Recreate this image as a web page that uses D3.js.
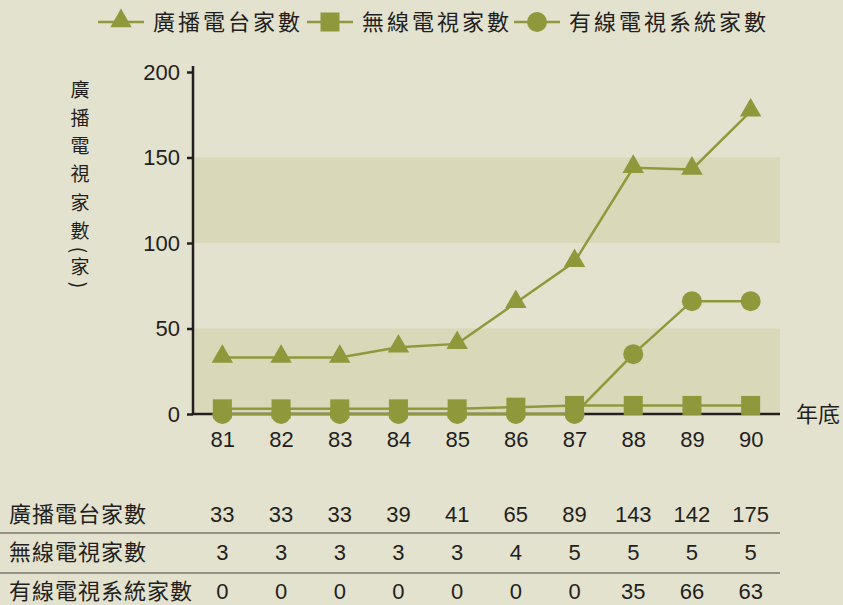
<!DOCTYPE html>
<html>
<head>
<meta charset="utf-8">
<script src="https://cdn.jsdelivr.net/npm/d3@7"></script>
<style>
  body { margin: 0; background: #e3e2cf; }
  svg { display: block; }
  text { font-family: "Noto Sans CJK TC", "Liberation Sans", Arial, sans-serif; fill: #231f20; }
  .num { font-family: "Liberation Sans", Arial, sans-serif; }
</style>
</head>
<body>
<div id="chart"></div>
<script>
// data
var years = ["81", "82", "83", "84", "85", "86", "87", "88", "89", "90"];
var seriesNames = ["廣播電台家數", "無線電視家數", "有線電視系統家數"];
// values as plotted
var radio = [33, 33, 33, 39, 41, 65, 89, 144, 143, 177];
var tv = [3, 3, 3, 3, 3, 4, 5, 5, 5, 5];
var cable = [0, 0, 0, 0, 0, 0, 0, 35, 66, 66];
// values as printed in the table
var radioTable = [33, 33, 33, 39, 41, 65, 89, 143, 142, 175];
var tvTable = [3, 3, 3, 3, 3, 4, 5, 5, 5, 5];
var cableTable = [0, 0, 0, 0, 0, 0, 0, 35, 66, 63];
var yTicks = [0, 50, 100, 150, 200];
var bands = [[0, 50], [100, 150]];

function main() {
  var W = 843, H = 605;
  var color = "#8f993c";

  var svg = d3.select("#chart").append("svg")
    .attr("width", W).attr("height", H);

  svg.append("rect").attr("width", W).attr("height", H).attr("fill", "#e3e2cf");

  var x = d3.scalePoint().domain(years).range([193, 780]).padding(0.5);
  var y = d3.scaleLinear().domain([0, 200]).range([414, 72]);

  // shaded bands
  svg.selectAll(".band").data(bands).enter().append("rect")
    .attr("x", 193).attr("width", 780 - 193)
    .attr("y", d => y(d[1])).attr("height", d => y(d[0]) - y(d[1]))
    .attr("fill", "#d9d8b9");

  // y axis
  var yAxis = svg.append("g")
    .attr("transform", "translate(193,0)")
    .call(d3.axisLeft(y).tickValues(yTicks).tickSize(6).tickPadding(7));
  yAxis.select(".domain").attr("stroke", "#231f20").attr("stroke-width", 2.5)
    .attr("d", "M0,66V414");
  yAxis.selectAll(".tick line").attr("stroke", "#231f20").attr("stroke-width", 2.5);
  yAxis.selectAll("text").attr("class", "num").style("font-size", "22px").attr("fill", "#231f20");

  // x axis
  var xAxis = svg.append("g")
    .attr("transform", "translate(0,414)")
    .call(d3.axisBottom(x).tickSize(0).tickPadding(17));
  xAxis.select(".domain").attr("stroke", "#231f20").attr("stroke-width", 2.5)
    .attr("d", "M193,0H780");
  xAxis.selectAll("text").attr("class", "num").style("font-size", "22px").attr("fill", "#231f20");

  svg.append("text").attr("x", 796).attr("y", 422)
    .style("font-size", "22px").text("年底");

  // y title, vertical
  var titleChars = ["廣", "播", "電", "視", "家", "數", "(", "家", ")"];
  var titleY = [88, 116, 144, 172, 201, 229, 250, 265, 285];
  svg.selectAll(".ytitle").data(titleChars).enter().append("text")
    .attr("text-anchor", "middle")
    .attr("dominant-baseline", "central")
    .attr("transform", (d, i) => "translate(80," + titleY[i] + ")" + ((d === "(" || d === ")") ? " rotate(90)" : ""))
    .style("font-size", "19px")
    .text(d => d);

  var line = d3.line().x((d, i) => x(years[i])).y(d => y(d));
  var all = [radio, tv, cable];

  all.forEach(function (vals) {
    svg.append("path").datum(vals)
      .attr("fill", "none").attr("stroke", color).attr("stroke-width", 2.5)
      .attr("d", line);
  });

  var tri = d3.symbol().type(d3.symbolTriangle).size(200);

  function drawMarker(g, k, cx, cy) {
    if (k === 0) {
      g.append("path").attr("d", tri).attr("transform", "translate(" + cx + "," + (cy - 1) + ")").attr("fill", color);
    } else if (k === 1) {
      g.append("rect").attr("x", cx - 9.5).attr("y", cy - 9.5).attr("width", 19).attr("height", 19).attr("fill", color);
    } else {
      g.append("circle").attr("cx", cx).attr("cy", cy).attr("r", 10).attr("fill", color);
    }
  }

  // markers: cable under tv under radio
  [2, 1, 0].forEach(function (k) {
    var g = svg.append("g");
    all[k].forEach(function (v, i) { drawMarker(g, k, x(years[i]), y(v)); });
  });

  // legend
  var legX = [98, 307, 514];
  seriesNames.forEach(function (name, k) {
    var g = svg.append("g");
    g.append("line").attr("x1", legX[k]).attr("x2", legX[k] + 46)
      .attr("y1", 22).attr("y2", 22).attr("stroke", color).attr("stroke-width", 2.5);
    drawMarker(g, k, legX[k] + 23, 22);
    g.append("text").attr("x", legX[k] + 55).attr("y", 30)
      .style("font-size", "22px").style("letter-spacing", "3px").text(name);
  });

  // table
  var tableRows = [radioTable, tvTable, cableTable];
  var rowY = [522, 560, 599];
  tableRows.forEach(function (vals, r) {
    svg.append("text").attr("x", 9).attr("y", rowY[r])
      .style("font-size", "22px").style("letter-spacing", "1px").text(seriesNames[r]);
    svg.selectAll(".cell" + r).data(vals).enter().append("text")
      .attr("class", "num")
      .attr("x", (d, i) => x(years[i]))
      .attr("y", rowY[r])
      .attr("text-anchor", "middle")
      .style("font-size", "22px")
      .text(d => d);
  });
  [533, 573].forEach(function (ly) {
    svg.append("line").attr("x1", 0).attr("x2", 780)
      .attr("y1", ly).attr("y2", ly)
      .attr("stroke", "#77766a").attr("stroke-width", 1.5);
  });
}
main();
</script>
</body>
</html>
